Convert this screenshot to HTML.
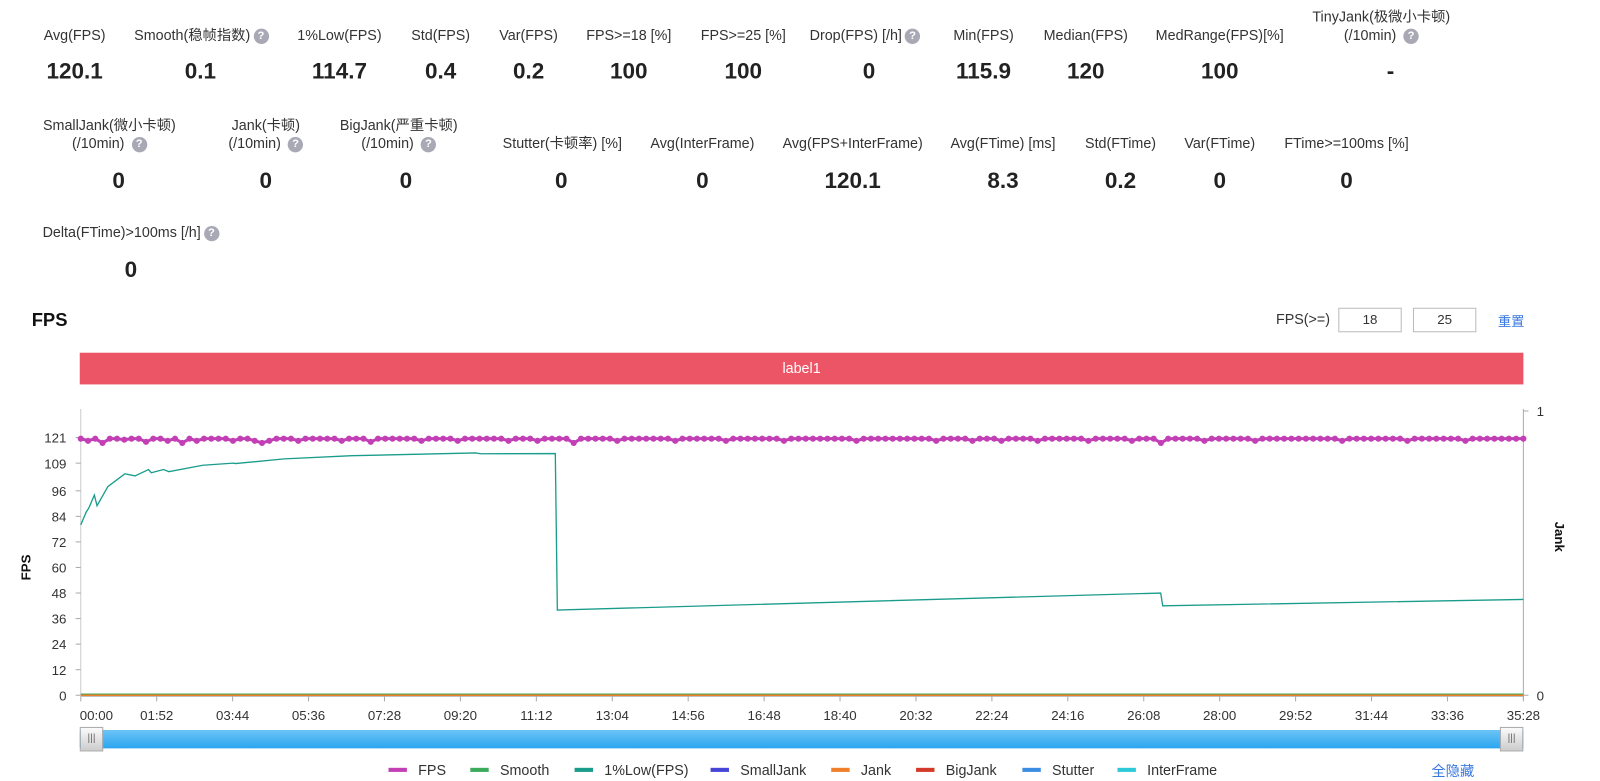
<!DOCTYPE html>
<html><head><meta charset="utf-8">
<style>
html,body{margin:0;padding:0;background:#fff;width:1600px;height:781px;overflow:hidden}
#wrap{position:absolute;left:0;top:0;width:1565px;height:764px;transform:scale(1.0224);transform-origin:0 0;font-family:"Liberation Sans","Noto Sans CJK SC",sans-serif;color:#333}
.lb{position:absolute;font-size:14px;color:#333;text-align:center;transform:translateX(-50%);white-space:nowrap;line-height:18px}
.vl{position:absolute;font-size:22px;font-weight:bold;color:#222;transform:translateX(-50%);white-space:nowrap}
.q{display:inline-block;width:15px;height:15px;border-radius:50%;background:#a9a9b6;color:#fff;font-size:11px;line-height:15px;text-align:center;font-weight:bold;vertical-align:middle;margin-left:3px}
.inp{position:absolute;top:301px;width:60px;height:22px;border:1px solid #bbb;font-size:13px;text-align:center;line-height:22px}
.leg{position:absolute;top:745px;font-size:14px;color:#333}
.sw{position:absolute;top:751px;width:18px;height:4px}
</style></head><body>
<div id="wrap">
<div class="lb" style="left:73px;top:25px">Avg(FPS)</div>
<div class="vl" style="left:73px;top:57px">120.1</div>
<div class="lb" style="left:197px;top:25px">Smooth(稳帧指数)<span class="q">?</span></div>
<div class="vl" style="left:196px;top:57px">0.1</div>
<div class="lb" style="left:332px;top:25px">1%Low(FPS)</div>
<div class="vl" style="left:332px;top:57px">114.7</div>
<div class="lb" style="left:431px;top:25px">Std(FPS)</div>
<div class="vl" style="left:431px;top:57px">0.4</div>
<div class="lb" style="left:517px;top:25px">Var(FPS)</div>
<div class="vl" style="left:517px;top:57px">0.2</div>
<div class="lb" style="left:615px;top:25px">FPS&gt;=18 [%]</div>
<div class="vl" style="left:615px;top:57px">100</div>
<div class="lb" style="left:727px;top:25px">FPS&gt;=25 [%]</div>
<div class="vl" style="left:727px;top:57px">100</div>
<div class="lb" style="left:846px;top:25px">Drop(FPS) [/h]<span class="q">?</span></div>
<div class="vl" style="left:850px;top:57px">0</div>
<div class="lb" style="left:962px;top:25px">Min(FPS)</div>
<div class="vl" style="left:962px;top:57px">115.9</div>
<div class="lb" style="left:1062px;top:25px">Median(FPS)</div>
<div class="vl" style="left:1062px;top:57px">120</div>
<div class="lb" style="left:1193px;top:25px">MedRange(FPS)[%]</div>
<div class="vl" style="left:1193px;top:57px">100</div>
<div class="lb" style="left:1351px;top:7px">TinyJank(极微小卡顿)<br>(/10min) <span class="q">?</span></div>
<div class="vl" style="left:1360px;top:57px">-</div>

<div class="lb" style="left:107px;top:113px">SmallJank(微小卡顿)<br>(/10min) <span class="q">?</span></div>
<div class="vl" style="left:116px;top:164px">0</div>
<div class="lb" style="left:260px;top:113px">Jank(卡顿)<br>(/10min) <span class="q">?</span></div>
<div class="vl" style="left:260px;top:164px">0</div>
<div class="lb" style="left:390px;top:113px">BigJank(严重卡顿)<br>(/10min) <span class="q">?</span></div>
<div class="vl" style="left:397px;top:164px">0</div>
<div class="lb" style="left:550px;top:131px">Stutter(卡顿率) [%]</div>
<div class="vl" style="left:549px;top:164px">0</div>
<div class="lb" style="left:687px;top:131px">Avg(InterFrame)</div>
<div class="vl" style="left:687px;top:164px">0</div>
<div class="lb" style="left:834px;top:131px">Avg(FPS+InterFrame)</div>
<div class="vl" style="left:834px;top:164px">120.1</div>
<div class="lb" style="left:981px;top:131px">Avg(FTime) [ms]</div>
<div class="vl" style="left:981px;top:164px">8.3</div>
<div class="lb" style="left:1096px;top:131px">Std(FTime)</div>
<div class="vl" style="left:1096px;top:164px">0.2</div>
<div class="lb" style="left:1193px;top:131px">Var(FTime)</div>
<div class="vl" style="left:1193px;top:164px">0</div>
<div class="lb" style="left:1317px;top:131px">FTime&gt;=100ms [%]</div>
<div class="vl" style="left:1317px;top:164px">0</div>

<div class="lb" style="left:128px;top:218px">Delta(FTime)&gt;100ms [/h]<span class="q">?</span></div>
<div class="vl" style="left:128px;top:251px">0</div>

<div style="position:absolute;left:31px;top:303px;font-size:18px;font-weight:bold;color:#111">FPS</div>
<div style="position:absolute;left:1248px;top:304px;font-size:14px">FPS(&gt;=)</div>
<div class="inp" style="left:1309px">18</div>
<div class="inp" style="left:1382px">25</div>
<div style="position:absolute;left:1465px;top:304px;font-size:13px;color:#3a78e0">重置</div>
<div style="position:absolute;left:78px;top:345px;width:1412px;height:31px;background:#ec5566;color:#fff;font-size:14px;text-align:center;line-height:31px">label1</div>

<svg id="chart" width="1565" height="764" style="position:absolute;left:0;top:0"></svg>

<div style="position:absolute;left:78px;top:714px;width:1412px;height:18px;background:linear-gradient(#6cc4f7,#2aa5ef);border-radius:2px"></div>
<div style="position:absolute;left:78px;top:711px;width:23px;height:24px;background:linear-gradient(#fafafa,#ccc);border:1px solid #aaa;box-sizing:border-box;font-size:10px;text-align:center;line-height:22px;color:#666">|||</div>
<div style="position:absolute;left:1467px;top:711px;width:23px;height:24px;background:linear-gradient(#fafafa,#ccc);border:1px solid #aaa;box-sizing:border-box;font-size:10px;text-align:center;line-height:22px;color:#666">|||</div>

<div id="legend"></div>
<div style="position:absolute;left:1400px;top:744px;font-size:14px;color:#3a78e0">全隐藏</div>
</div>
<script>
const xTickLabels=["00:00","01:52","03:44","05:36","07:28","09:20","11:12","13:04","14:56","16:48","18:40","20:32","22:24","24:16","26:08","28:00","29:52","31:44","33:36","35:28"];
const yTicks=[0,12,24,36,48,60,72,84,96,109,121];
const lowT=[0,8,12,20,24,40,65,80,100,104,122,130,180,225,228,300,400,500,582,590,700,703,1593,1596,2128];
const lowV=[80,86,88,94,89,98,104,103,106,104.5,106,105,108,109,108.8,111,112.5,113.2,113.8,113.4,113.5,40,48,42,45];
const fpsV=[120.5,119.5,120.5,118.5,120.5,120.5,120,120.5,120.5,119,120.5,120.5,119.5,120.5,118.5,120.5,119.5,120.5,120.5,120.5,
120.5,119.5,120.5,120.5,119.5,118.5,119.5,120.5,120.5,120.5,119.5,120.5,120.5,120.5,120.5,120.5,119.5,120.5,120.5,120.5,
119,120.5,120.5,120.5,120.5,120.5,120.5,119.5,120.5,120.5,120.5,120.5,119.5,120.5,120.5,120.5,120.5,120.5,120.5,119.5,
120.5,120.5,120.5,119.5,120.5,120.5,120.5,120.5,118.5,120.5,120.5,120.5,120.5,120.5,119.5,120.5,120.5,120.5,120.5,120.5,
120.5,120.5,119.5,120.5,120.5,120.5,120.5,120.5,120.5,119.5,120.5,120.5,120.5,120.5,120.5,120.5,120.5,119.5,120.5,120.5,
120.5,120.5,120.5,120.5,120.5,120.5,120.5,119.5,120.5,120.5,120.5,120.5,120.5,120.5,120.5,120.5,120.5,120.5,119.5,120.5,
120.5,120.5,120.5,119.5,120.5,120.5,120.5,119.5,120.5,120.5,120.5,120.5,119.5,120.5,120.5,120.5,120.5,120.5,120.5,119.5,
120.5,120.5,120.5,120.5,120.5,119.5,120.5,120.5,120.5,118.5,120.5,120.5,120.5,120.5,120.5,119.5,120.5,120.5,120.5,120.5,
120.5,120.5,119.5,120.5,120.5,120.5,120.5,120.5,120.5,120.5,120.5,120.5,120.5,120.5,119.5,120.5,120.5,120.5,120.5,120.5,
120.5,120.5,120.5,119.5,120.5,120.5,120.5,120.5,120.5,120.5,120.5,119.5,120.5,120.5,120.5,120.5,120.5,120.5,120.5,120.5];
const jankT=[0,2128];
const jankV=[0,0];
const legendNames=["FPS","Smooth","1%Low(FPS)","SmallJank","Jank","BigJank","Stutter","InterFrame"];
const legendColors=["#c23fb5","#3cab5c","#1a9c8c","#4646d6","#f07f2a","#d43a2a","#3a8de0","#2ec9d8"];
const X0=79,X1=1490,Y0=680,Y121=428,TMAX=2128;
const xs=t=>X0+t/TMAX*(X1-X0);
const ys=v=>Y0-v/121*(Y0-Y121);
const yr=v=>680-v*(680-402);
const svg=document.getElementById('chart');const NS='http://www.w3.org/2000/svg';
function mk(tag,a){const e=document.createElementNS(NS,tag);for(const k in a)e.setAttribute(k,a[k]);svg.appendChild(e);return e;}
let e;
e=mk('line',{x1:X0,y1:400,x2:X0,y2:Y0,stroke:'#ccc'});
e=mk('line',{x1:X1,y1:400,x2:X1,y2:Y0+4,stroke:'#aaa'});
e=mk('line',{x1:X0,y1:Y0+1,x2:X1,y2:Y0+1,stroke:'#aaa'});
yTicks.forEach(v=>{mk('line',{x1:X0-5,y1:ys(v),x2:X0,y2:ys(v),stroke:'#aaa'});
e=mk('text',{x:X0-14,y:ys(v)+5,'text-anchor':'end','font-size':13,fill:'#333','font-family':'Liberation Sans'});e.textContent=v;});
xTickLabels.forEach((l,i)=>{const x=xs(i*112);mk('line',{x1:x,y1:Y0+1,x2:x,y2:Y0+6,stroke:'#aaa'});
e=mk('text',{x:i==0?x-1:x,y:Y0+24,'text-anchor':i==0?'start':'middle','font-size':13,fill:'#333','font-family':'Liberation Sans'});e.textContent=l;});
[[0,'0'],[1,'1']].forEach(([v,l])=>{mk('line',{x1:X1,y1:yr(v),x2:X1+5,y2:yr(v),stroke:'#aaa'});e=mk('text',{x:X1+13,y:yr(v)+5,'font-size':13,fill:'#333','font-family':'Liberation Sans'});e.textContent=l;});
e=mk('text',{transform:'translate(30,555) rotate(-90)','text-anchor':'middle','font-size':13,'font-weight':'bold',fill:'#111','font-family':'Liberation Sans'});e.textContent='FPS';
e=mk('text',{transform:'translate(1521,525) rotate(90)','text-anchor':'middle','font-size':13,'font-weight':'bold',fill:'#111','font-family':'Liberation Sans'});e.textContent='Jank';
e=mk('polyline',{points:jankT.map((t,i)=>xs(t)+','+(ys(jankV[i])-1)).join(' '),fill:'none',stroke:'#3cab5c','stroke-width':1.5});
e=mk('polyline',{points:jankT.map((t,i)=>xs(t)+','+yr(jankV[i])).join(' '),fill:'none',stroke:'#f07f2a','stroke-width':1.5});
e=mk('polyline',{points:lowT.map((t,i)=>xs(t)+','+ys(lowV[i])).join(' '),fill:'none',stroke:'#1a9c8c','stroke-width':1.3});
const n=fpsV.length;
e=mk('polyline',{points:fpsV.map((v,i)=>xs(i/(n-1)*TMAX)+','+ys(v)).join(' '),fill:'none',stroke:'#c23fb5','stroke-width':3});
fpsV.forEach((v,i)=>{const c=mk('circle',{cx:xs(i/(n-1)*TMAX),cy:ys(v),r:3,fill:'#c23fb5'});});
const lg=document.getElementById('legend');
const lx=[380,460,562,695,813,896,1000,1093];
legendNames.forEach((nm,i)=>{const s=document.createElement('div');s.className='sw';s.style.left=lx[i]+'px';s.style.background=legendColors[i];


lg.appendChild(s);
const t=document.createElement('div');t.className='leg';t.style.left=(lx[i]+29)+'px';t.textContent=nm;


lg.appendChild(t);});
</script>
</body></html>
